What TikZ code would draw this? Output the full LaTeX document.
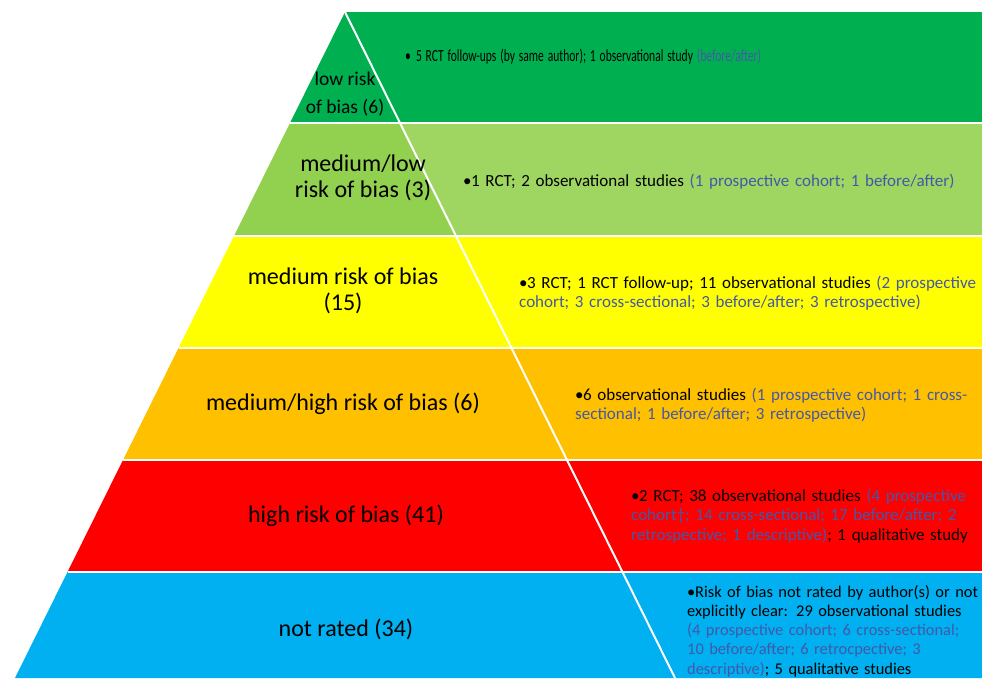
\documentclass[tikz,border=0pt]{standalone}
\usepackage{fontspec}
\setmainfont{Carlito}
\usepackage{xcolor}
\definecolor{lowc}{HTML}{00B050}
\definecolor{medlowc}{HTML}{92D050}
\definecolor{medlowr}{HTML}{9FD662}
\definecolor{medc}{HTML}{FFFF00}
\definecolor{medhighc}{HTML}{FFC000}
\definecolor{highc}{HTML}{FF0000}
\definecolor{notc}{HTML}{00B0F0}
\definecolor{parblue}{RGB}{68,88,168}

\begin{document}
\begin{tikzpicture}[x=1pt, y=-1pt,
	sep/.style={white, line width=2pt},
	label/.style={font=\fontsize{24}{26}\selectfont, align=center, inner sep=0pt},
	note/.style={font=\fontsize{17}{19.5}\selectfont, align=left, anchor=base west, inner sep=0pt, text width=600pt}]

	\useasboundingbox (0,0) rectangle (982,678);

	% bands, pyramid side
	\fill[lowc] (345,12) -- (400,123) -- (290,123) -- cycle;
	\fill[medlowc] (290,123) -- (400,123) -- (456,236) -- (234,236) -- cycle;
	\fill[medc] (234,236) -- (456,236) -- (511.5,348) -- (178.5,348) -- cycle;
	\fill[medhighc] (178.5,348) -- (511.5,348) -- (567,460) -- (123,460) -- cycle;
	\fill[highc] (123,460) -- (567,460) -- (622.5,572) -- (67.5,572) -- cycle;
	\fill[notc] (67.5,572) -- (622.5,572) -- (675,678) -- (15,678) -- cycle;

	% bands, text side
	\fill[lowc] (345,12) -- (982,12) -- (982,123) -- (400,123) -- cycle;
	\fill[medlowr] (400,123) -- (982,123) -- (982,236) -- (456,236) -- cycle;
	\fill[medc] (456,236) -- (982,236) -- (982,348) -- (511.5,348) -- cycle;
	\fill[medhighc] (511.5,348) -- (982,348) -- (982,460) -- (567,460) -- cycle;
	\fill[highc] (567,460) -- (982,460) -- (982,572) -- (622.5,572) -- cycle;
	\fill[notc] (622.5,572) -- (982,572) -- (982,678) -- (675,678) -- cycle;

	% white lines
	\draw[sep] (290,123) -- (982,123);
	\draw[sep] (234,236) -- (982,236);
	\draw[sep] (178.5,348) -- (982,348);
	\draw[sep] (123,460) -- (982,460);
	\draw[sep] (67.5,572) -- (982,572);
	\draw[sep] (345,12) -- (675,678);

	% levels
	\node[label, font=\fontsize{19.5}{28}\selectfont] (l1) at (345,94) {low risk\\of bias (6)};
	\node[label] (l2) at (363,178) {medium/low\\risk of bias (3)};
	\node[label] (l3) at (343,291) {medium risk of bias\\(15)};
	\node[label] (l4) at (343,404) {medium/high risk of bias (6)};
	\node[label] (l5) at (346,516) {high risk of bias (41)};
	\node[label] (l6) at (346,629) {not rated (34)};

	% studies
	\node[note, xscale=0.68, transform shape] (n1) at (405,61)
		{\makebox[16pt][l]{\textbullet}5 RCT follow-ups (by same author); 1 observational study \textcolor{parblue}{(before/after)}};
	\node[note] (n2) at (463,186)
		{\makebox[8pt][l]{\textbullet}1 RCT; 2 observational studies \textcolor{parblue}{(1 prospective cohort; 1 before/after)}};
	\node[note] (n3) at (519,288)
		{\hangindent=8pt\hangafter=1\makebox[8pt][l]{\textbullet}3 RCT; 1 RCT follow-up; 11 observational studies \textcolor{parblue}{(2 prospective}\\
		\textcolor{parblue}{cohort; 3 cross-sectional; 3 before/after; 3 retrospective)}};
	\node[note] (n4) at (575,400)
		{\hangindent=8pt\hangafter=1\makebox[8pt][l]{\textbullet}6 observational studies \textcolor{parblue}{(1 prospective cohort; 1 cross-}\\
		\textcolor{parblue}{sectional; 1 before/after; 3 retrospective)}};
	\node[note] (n5) at (631,501)
		{\hangindent=8pt\hangafter=1\makebox[8pt][l]{\textbullet}2 RCT; 38 observational studies \textcolor{parblue}{(4 prospective}\\
		\textcolor{parblue}{cohort†; 14 cross-sectional; 17 before/after; 2}\\
		\textcolor{parblue}{retrospective; 1 descriptive)}; 1 qualitative study};
	\node[note, font=\fontsize{16.4}{19.3}\selectfont] (n6) at (687,597)
		{\hangindent=8pt\hangafter=1\makebox[8pt][l]{\textbullet}Risk of bias not rated by author(s) or not\\
		explicitly clear: 29 observational studies\\
		\textcolor{parblue}{(4 prospective cohort; 6 cross-sectional;}\\
		\textcolor{parblue}{10 before/after; 6 retrocpective; 3}\\
		\textcolor{parblue}{descriptive)}; 5 qualitative studies};
\end{tikzpicture}
\end{document}
